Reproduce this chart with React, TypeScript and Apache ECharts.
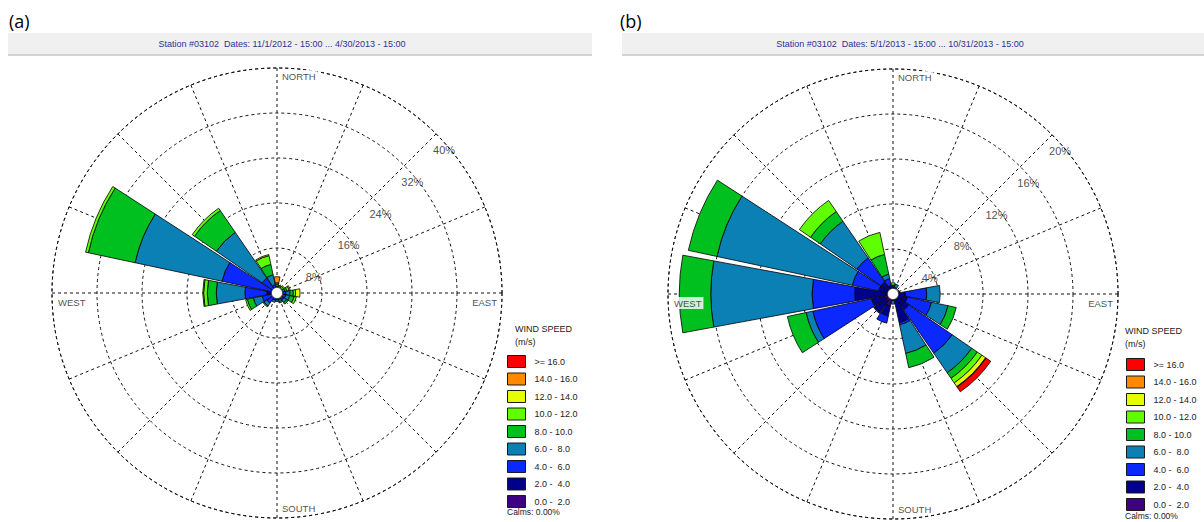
import React, { useEffect, useRef } from 'react';
import * as echarts from 'echarts';

// ---------- data ----------
const directions = ['N', 'NNE', 'NE', 'ENE', 'E', 'ESE', 'SE', 'SSE', 'S', 'SSW', 'SW', 'WSW', 'W', 'WNW', 'NW', 'NNW'];
const speedClasses = ['0.0 -  2.0', '2.0 -  4.0', '4.0 -  6.0', '6.0 -  8.0', '8.0 - 10.0', '10.0 - 12.0', '12.0 - 14.0', '14.0 - 16.0', '>= 16.0'];
const speedColors = ['#3c0080', '#00008a', '#0a28ff', '#0b80b5', '#00c01f', '#5fff00', '#e6ff00', '#ff8a00', '#ff0000'];

// (a) winter: frequency (%) by direction for each speed class
const a0_2 = [0.1, 0.1, 0.1, 0.1, 0.1, 0.1, 0.1, 0.1, 0.1, 0.1, 0.1, 0.1, 0.1, 0.1, 0.1, 0.1];
const a2_4 = [0.3, 0.3, 0.3, 0.4, 0.6, 0.7, 0.6, 0.5, 0.5, 0.5, 0.8, 0.8, 1.7, 1.0, 0.6, 0.4];
const a4_6 = [0.4, 0.3, 0.3, 0.5, 0.9, 0.8, 0.8, 0.6, 0.6, 0.7, 1.3, 1.8, 3.9, 8.9, 2.5, 1.0];
const a6_8 = [0.4, 0.2, 0.2, 0.4, 0.7, 0.7, 0.6, 0.4, 0.3, 0.4, 0.6, 1.6, 5.1, 15.8, 9.9, 1.8];
const a8_10 = [0.4, 0.3, 0.2, 0.4, 0.6, 0.8, 0.3, 0.2, 0, 0, 0.2, 1.1, 1.6, 8.5, 4.7, 1.9];
const a10_12 = [0.2, 0.2, 0.3, 0.4, 0.4, 0.4, 0, 0, 0, 0, 0, 0.3, 0.65, 0.5, 0.5, 1.6];
const a12_14 = [0, 0, 0.2, 0.2, 0.8, 0, 0, 0, 0, 0, 0, 0, 0.15, 0, 0, 0.2];
const a14_16 = [1.1, 0, 0, 0, 0, 0, 0, 0, 0, 0, 0, 0, 0, 0, 0, 0];
const a16 = [0, 0, 0, 0, 0, 0, 0, 0, 0, 0, 0, 0, 0, 0, 0, 0];

// (b) summer
const b0_2 = [0.2, 0.2, 0.1, 0.2, 0.3, 0.3, 0.3, 0.4, 0.2, 1.1, 0.8, 0.8, 0.5, 0.3, 0.3, 0.2];
const b2_4 = [0.2, 0.2, 0.1, 0.3, 0.8, 1.0, 1.4, 2.2, 0.3, 0.9, 1.2, 1.15, 2.9, 1.0, 1.0, 0.6];
const b4_6 = [0.2, 0.2, 0, 0.1, 1.9, 2.2, 4.7, 0.2, 0.1, 0.65, 0.1, 5.35, 3.8, 2.4, 2.6, 0.6];
const b6_8 = [0.1, 0.3, 0, 0, 1.2, 1.5, 2.1, 2.6, 0.3, 0, 0, 0.6, 9.0, 12.3, 3.95, 0.4];
const b8_10 = [0.1, 0, 0, 0, 0, 0.75, 0.6, 1.3, 0, 0, 0, 1.7, 2.8, 2.6, 1.05, 1.8];
const b10_12 = [0.2, 0, 0, 0, 0, 0, 0.5, 0, 0, 0, 0, 0, 0, 0, 1.2, 2.0];
const b12_14 = [0, 0, 0, 0, 0, 0, 0.4, 0, 0, 0, 0, 0, 0, 0, 0, 0];
const b14_16 = [0, 0, 0, 0, 0, 0, 0.05, 0, 0, 0, 0, 0, 0, 0, 0, 0];
const b16 = [0, 0, 0, 0, 0, 0, 0.5, 0, 0, 0, 0, 0, 0, 0, 0, 0];

const roseA = [a0_2, a2_4, a4_6, a6_8, a8_10, a10_12, a12_14, a14_16, a16];
const roseB = [b0_2, b2_4, b4_6, b6_8, b8_10, b10_12, b12_14, b14_16, b16];

const ticksA = [8, 16, 24, 32, 40];
const ticksB = [4, 8, 12, 16, 20];
const cardinals = [
  { name: 'NORTH', angle: 0 },
  { name: 'EAST', angle: 90 },
  { name: 'SOUTH', angle: 180 },
  { name: 'WEST', angle: 270 },
];

const titleA = 'Station #03102  Dates: 11/1/2012 - 15:00 ... 4/30/2013 - 15:00';
const titleB = 'Station #03102  Dates: 5/1/2013 - 15:00 ... 10/31/2013 - 15:00';
const calmsText = 'Calms: 0.00%';

// ---------- layout ----------
const FONT = 'Liberation Sans, Arial, sans-serif';
const A = { cx: 277, cy: 293 };
const B = { cx: 893, cy: 294 };
const R = 225;
const dash = { color: '#111', width: 1, type: [3, 3] as any };

const cardinalLabel: Record<string, any> = {
  NORTH: { align: 'left', verticalAlign: 'middle', offset: [3, 8] },
  SOUTH: { align: 'left', verticalAlign: 'middle', offset: [3, -10] },
  WEST: { align: 'left', verticalAlign: 'middle', offset: [4, 9] },
  EAST: { align: 'right', verticalAlign: 'middle', offset: [-3, 9] },
};

function gridAngle(i: number) {
  return {
    polarIndex: i, type: 'value', min: 0, max: 360, interval: 22.5, startAngle: 90, clockwise: true,
    axisLine: { show: true, lineStyle: dash }, axisTick: { show: false }, axisLabel: { show: false },
    splitLine: { show: true, lineStyle: dash },
  };
}
function dataAngle(i: number) {
  return {
    polarIndex: i, type: 'category', data: directions, startAngle: 101.25, clockwise: true,
    axisLine: { show: false }, axisTick: { show: false }, axisLabel: { show: false }, splitLine: { show: false },
  };
}
function gridRadius(i: number, max: number, interval: number) {
  return {
    polarIndex: i, type: 'value', min: 0, max, interval,
    axisLine: { show: false }, axisTick: { show: false }, axisLabel: { show: false },
    splitLine: { show: true, lineStyle: dash },
  };
}
function dataRadius(i: number, max: number) {
  return {
    polarIndex: i, type: 'value', min: 0, max,
    axisLine: { show: false }, axisTick: { show: false }, axisLabel: { show: false }, splitLine: { show: false },
  };
}

function roseSeries(rose: number[][], polarIndex: number, stack: string) {
  return rose.map((vals, k) => ({
    type: 'bar',
    name: speedClasses[k],
    coordinateSystem: 'polar',
    polarIndex,
    stack,
    barCategoryGap: '7%',
    data: vals.map((v) => (v > 0 ? v : null)),
    itemStyle: { color: speedColors[k], borderColor: '#000', borderWidth: 0.8 },
    silent: true,
    z: 2,
  }));
}

function labelSeries(polarIndex: number, ticks: number[], max: number) {
  return [
    {
      type: 'scatter', coordinateSystem: 'polar', polarIndex, symbolSize: 0, silent: true, z: 10,
      itemStyle: { color: 'transparent' },
      data: ticks.map((t) => ({ value: [t, 45], name: t + '%' })),
      label: {
        show: true, position: 'inside', formatter: '{b}', align: 'left', verticalAlign: 'middle',
        offset: [-3, 16], fontSize: 11, color: '#222', fontFamily: FONT,
      },
    },
    {
      type: 'scatter', coordinateSystem: 'polar', polarIndex, symbolSize: 0, silent: true, z: 10,
      itemStyle: { color: 'transparent' },
      data: cardinals.map((c) => ({
        value: [max, c.angle], name: c.name,
        label: cardinalLabel[c.name],
      })),
      label: {
        show: true, position: 'inside', formatter: '{b}', fontSize: 9.5, color: '#222', fontFamily: FONT,
        backgroundColor: '#fff', padding: [1, 2],
      },
    },
  ];
}

function legendFor(left: number, top: number, gap: number) {
  return {
    data: speedClasses.slice().reverse(),
    orient: 'vertical', left, top, padding: 0,
    itemWidth: 18, itemHeight: 12, itemGap: gap, icon: 'rect', selectedMode: false,
    itemStyle: { borderColor: '#1a1a1a', borderWidth: 1 },
    textStyle: { fontSize: 9, color: '#222', fontFamily: FONT, padding: [0, 0, 0, 4] },
  };
}

function txt(text: string, x: number, y: number, size: number, fill: string, align = 'left', family = FONT) {
  return {
    type: 'text', x, y, z: 50, silent: true,
    style: { text, fontSize: size, fontFamily: family, fill, align, textAlign: align, verticalAlign: 'middle', textVerticalAlign: 'middle' },
  };
}

export default function App() {
  const ref = useRef<HTMLDivElement>(null);
  useEffect(() => {
    if (!ref.current) return;
    const chart = echarts.init(ref.current, null, { renderer: 'svg' });
    const option: any = {
      animation: false,
      backgroundColor: '#fff',
      polar: [
        { center: [A.cx, A.cy], radius: R },
        { center: [A.cx, A.cy], radius: R },
        { center: [B.cx, B.cy], radius: R },
        { center: [B.cx, B.cy], radius: R },
      ],
      angleAxis: [gridAngle(0), dataAngle(1), gridAngle(2), dataAngle(3)],
      radiusAxis: [gridRadius(0, 40, 8), dataRadius(1, 40), gridRadius(2, 20, 4), dataRadius(3, 20)],
      legend: [legendFor(507, 355, 4.5), legendFor(1126, 358, 4.5)],
      series: [
        ...roseSeries(roseA, 1, 'roseA'),
        ...roseSeries(roseB, 3, 'roseB'),
        ...labelSeries(0, ticksA, 40),
        ...labelSeries(2, ticksB, 20),
      ],
      graphic: [
        { type: 'rect', silent: true, z: 40, shape: { x: 8, y: 33, width: 584, height: 21 }, style: { fill: '#f0f0f0' } },
        { type: 'rect', silent: true, z: 40, shape: { x: 8, y: 54, width: 584, height: 2 }, style: { fill: '#d2d2d2' } },
        { type: 'rect', silent: true, z: 40, shape: { x: 622, y: 33, width: 582, height: 21 }, style: { fill: '#f0f0f0' } },
        { type: 'rect', silent: true, z: 40, shape: { x: 622, y: 54, width: 582, height: 2 }, style: { fill: '#d2d2d2' } },
        txt(titleA, 282, 44, 9, '#2e3192', 'center'),
        txt(titleB, 900, 44, 9, '#2e3192', 'center'),
        txt('(a)', 9, 21, 18, '#000', 'left', 'Open Sans, Liberation Sans, sans-serif'),
        txt('(b)', 620, 21, 18, '#000', 'left', 'Open Sans, Liberation Sans, sans-serif'),
        txt('WIND SPEED', 515, 329, 9, '#222'),
        txt('(m/s)', 515, 342, 9, '#222'),
        txt(calmsText, 507, 512, 8.5, '#222'),
        txt('WIND SPEED', 1125, 331, 9, '#222'),
        txt('(m/s)', 1125, 344, 9, '#222'),
        txt(calmsText, 1125, 516, 8.5, '#222'),
        { type: 'circle', silent: true, z: 30, shape: { cx: A.cx, cy: A.cy, r: 5.5 }, style: { fill: '#fff', stroke: '#222', lineWidth: 0.6 } },
        { type: 'circle', silent: true, z: 30, shape: { cx: B.cx, cy: B.cy, r: 5.5 }, style: { fill: '#fff', stroke: '#222', lineWidth: 0.6 } },
      ],
    };
    chart.setOption(option);
    return () => chart.dispose();
  }, []);
  return (
    <div
      ref={ref}
      style={{ position: 'fixed', left: 0, top: 0, width: 1204, height: 522, background: '#fff' }}
    />
  );
}
